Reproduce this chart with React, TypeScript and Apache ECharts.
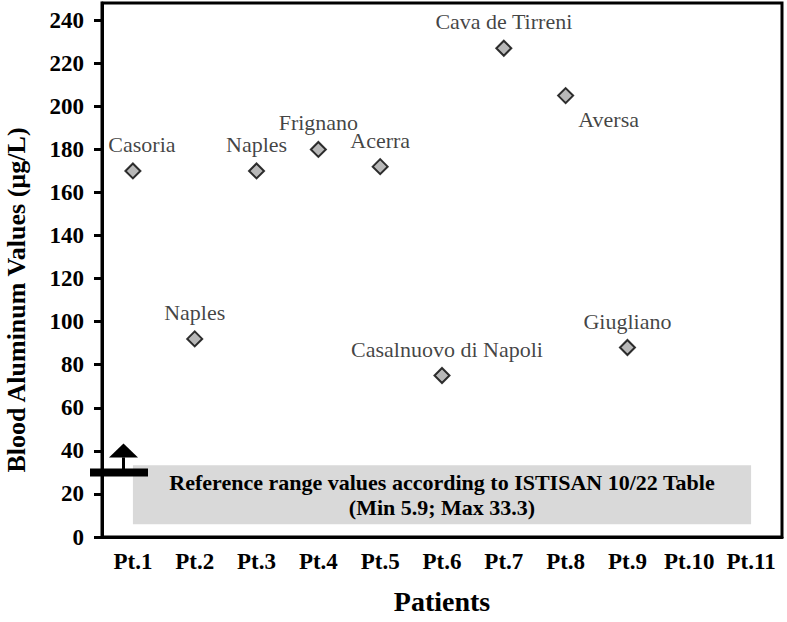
import React, { useEffect, useRef } from "react";
import * as echarts from "echarts";

const categories = ["Pt.1", "Pt.2", "Pt.3", "Pt.4", "Pt.5", "Pt.6", "Pt.7", "Pt.8", "Pt.9", "Pt.10", "Pt.11"];
const patientValues = [170, 92, 170, 180, 172, 75, 227, 205, 88];
const locations = ["Casoria", "Naples", "Naples", "Frignano", "Acerra", "Casalnuovo di Napoli", "Cava de Tirreni", "Aversa", "Giugliano"];
const yTicks = [0, 20, 40, 60, 80, 100, 120, 140, 160, 180, 200, 220, 240];
const refMin = 5.9;
const refMax = 33.3;
const markerValue = 30;

const labelOffsets: Record<string, any> = {
  Casoria: { position: "top", distance: 7, offset: [9, 0] },
  "Casalnuovo di Napoli": { position: "top", distance: 7, offset: [5, 0] },
  Aversa: { position: "bottom", distance: 4, offset: [43, 0] },
};

const SERIF = "Liberation Serif";

export default function App() {
  const ref = useRef<HTMLDivElement>(null);
  useEffect(() => {
    document.body.style.margin = "0";
    const chart = echarts.init(ref.current!, null, { renderer: "svg" });
    const data = patientValues.map((v, i) => ({
      name: locations[i],
      value: [categories[i], v],
      label: labelOffsets[locations[i]] || { position: "top", distance: 7 },
    }));
    chart.setOption({
      animation: false,
      backgroundColor: "#fff",
      grid: {
        left: 102,
        right: 5,
        top: 3,
        bottom: 85,
        show: true,
        borderColor: "#000",
        borderWidth: 3,
      },
      xAxis: {
        type: "category",
        data: categories,
        boundaryGap: true,
        name: "Patients",
        nameLocation: "middle",
        nameGap: 50,
        nameTextStyle: { fontFamily: SERIF, fontWeight: "bold", fontSize: 28, color: "#000" },
        axisLine: { lineStyle: { color: "#000", width: 3 } },
        axisTick: { alignWithLabel: true, interval: 0, length: 8, lineStyle: { color: "#000", width: 3 } },
        axisLabel: { interval: 0, fontFamily: SERIF, fontWeight: "bold", fontSize: 23, color: "#000", margin: 13 },
        splitLine: { show: false },
      },
      yAxis: {
        type: "value",
        min: 0,
        max: 248,
        interval: 20,
        axisLine: { show: true, lineStyle: { color: "#000", width: 3 } },
        axisTick: { show: true, length: 8, customValues: yTicks, lineStyle: { color: "#000", width: 3 } },
        axisLabel: { fontFamily: SERIF, fontWeight: "bold", fontSize: 23, color: "#000", margin: 18, customValues: yTicks },
        splitLine: { show: false },
      },
      series: [
        {
          type: "scatter",
          symbol: "diamond",
          symbolSize: 15,
          itemStyle: { color: "#a6a6a6", borderColor: "#000", borderWidth: 2 },
          label: {
            show: true,
            formatter: "{b}",
            fontFamily: SERIF,
            fontSize: 22,
            color: "#111",
          },
          data,
          markArea: {
            silent: true,
            itemStyle: { color: "#d9d9d9" },
            label: {
              show: true,
              position: "inside",
              formatter: "Reference range values according to ISTISAN 10/22 Table\n(Min " + refMin + "; Max " + refMax + ")",
              fontFamily: SERIF,
              fontWeight: "bold",
              fontSize: 22,
              lineHeight: 25,
              color: "#000",
              align: "center",
            },
            data: [[{ xAxis: categories[0], yAxis: refMin }, { xAxis: categories[categories.length - 1], yAxis: refMax }]],
          },
          z: 3,
        },
      ],
    });
    const yM = chart.convertToPixel({ yAxisIndex: 0 }, markerValue) as number;
    chart.setOption({
      graphic: [
        { type: "rect", shape: { x: 90, y: yM - 4, width: 58, height: 8 }, style: { fill: "#000" }, z: 10 },
        { type: "rect", shape: { x: 122, y: yM - 15, width: 3, height: 12 }, style: { fill: "#000" }, z: 10 },
        { type: "polygon", shape: { points: [[109, yM - 15], [138, yM - 15], [123.5, yM - 29]] }, style: { fill: "#000" }, z: 10 },
        {
          type: "text",
          x: 16,
          y: 300,
          rotation: Math.PI / 2,
          style: {
            text: "Blood Aluminum Values (µg/L)",
            fontFamily: SERIF,
            fontWeight: "bold",
            fontSize: 26,
            fill: "#000",
            align: "center",
            verticalAlign: "middle",
          },
        },
      ],
    });
    return () => chart.dispose();
  }, []);
  return <div ref={ref} style={{ width: 787, height: 622 }} />;
}
